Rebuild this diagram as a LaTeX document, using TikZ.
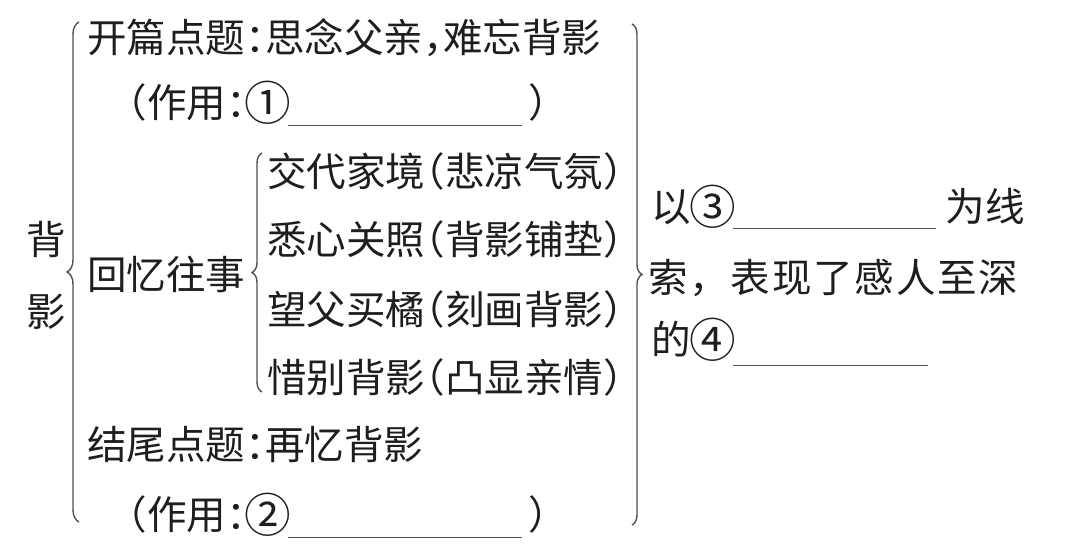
\documentclass[tikz,border=0pt]{standalone}
\usepackage{fontspec}
\setmainfont{Noto Sans CJK SC}[RawFeature=+halt]
\newfontfamily\cjkfull{Noto Sans CJK SC}
\newfontfamily\cjkwide{Noto Sans CJK SC}[LetterSpace=4.5]
\usepackage{xcolor}
\usetikzlibrary{decorations.pathreplacing}
\definecolor{ink}{HTML}{1E1E1E}
\definecolor{linegray}{HTML}{505050}
\newcommand{\blank}[2][4.8pt]{\textcolor{linegray}{\rule[-#1]{#2}{0.8pt}}}
\newcommand{\circnum}[1]{\hspace{0.06em}\makebox[1em]{\raisebox{-0.07em}{\scalebox{1.18}{#1}}}}
\tikzset{
    row/.style={anchor=base west, inner sep=0pt, text=ink},
    curly/.style={draw=linegray, line width=0.8pt, decorate,
        decoration={brace, amplitude=#1}},
}

\begin{document}
\begin{tikzpicture}[x=0.02cm, y=-0.02cm, font=\fontsize{22.5pt}{27pt}\selectfont]
    \useasboundingbox (0,0) rectangle (1080,553);

    \node[row] (bei) at (26,255) {背};
    \node[row] (ying) at (26,327) {影};

    \node[row] (kaipian) at (87,53) {开篇点题：思念父亲，难忘背影};
    \node[row] (zuoyong1) at (127,118) {（作用：\circnum{①}\blank{4.68cm}\hspace{0.14cm}）};
    \node[row] (huiyi) at (87,290) {回忆往事};
    \node[row] (jiaodai) at (267,187) {交代家境（悲凉气氛）};
    \node[row] (xixin) at (267,255) {悉心关照（背影铺垫）};
    \node[row] (wangfu) at (267,325) {望父买橘（刻画背影）};
    \node[row] (xibie) at (267,393) {惜别背影（凸显亲情）};
    \node[row] (jiewei) at (87,460) {结尾点题：再忆背影};
    \node[row] (zuoyong2) at (127,530) {（作用：\circnum{②}\blank{4.68cm}\hspace{0.14cm}）};

    \node[row] (xiansuo) at (651,222) {\cjkfull 以\circnum{③}\blank[4pt]{4.06cm}\hspace{0.2cm}为线};
    \node[row] (biaoxian) at (648,293) {\cjkwide 索，表现了感人至深};
    \node[row] (qinqing) at (651,355) {\cjkfull 的\circnum{④}\blank[6.5pt]{3.9cm}};

    \draw[curly=0.24cm] (79,522) -- (79,22);
    \draw[curly=0.2cm] (262,392) -- (262,153);
    \draw[curly=0.2cm] (632,24) -- (632,525);
\end{tikzpicture}
\end{document}
